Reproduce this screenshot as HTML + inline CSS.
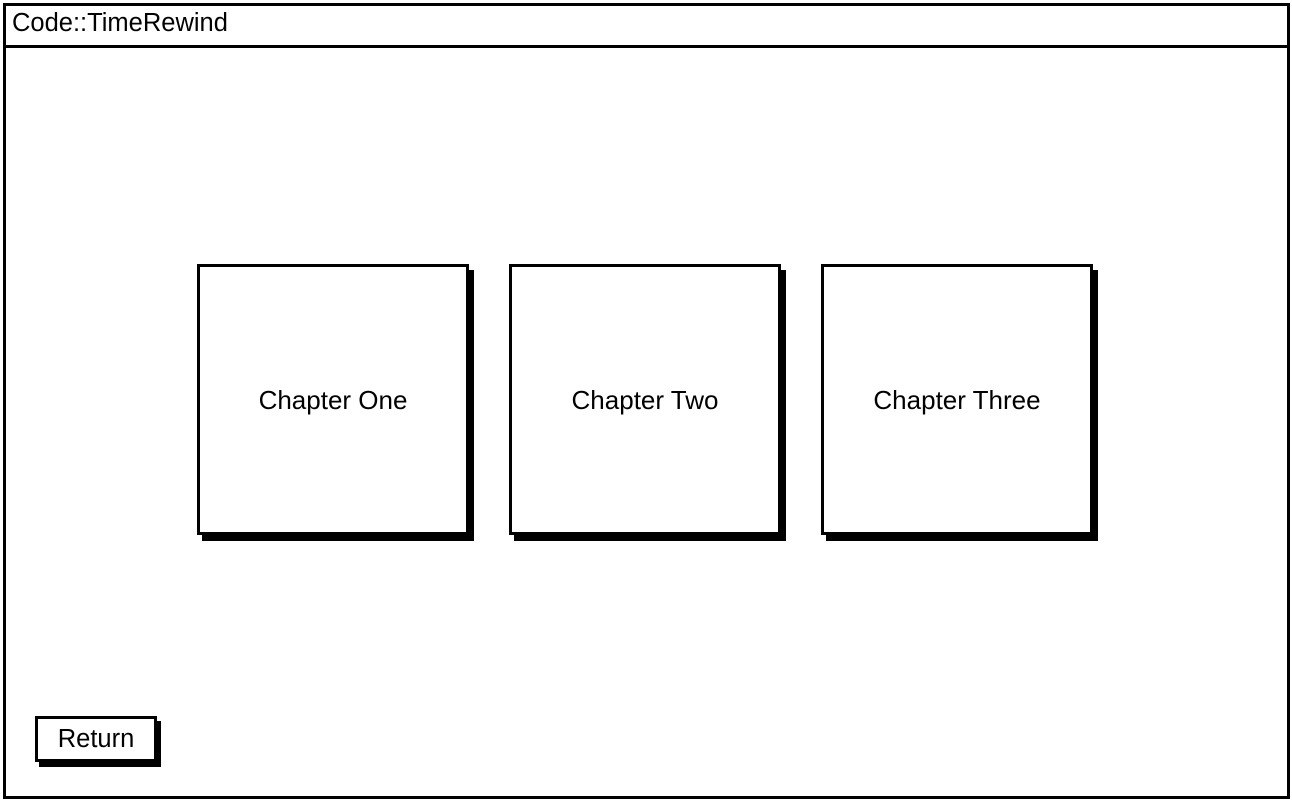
<!DOCTYPE html>
<html><head><style>
body{margin:0;width:1292px;height:800px;background:#fff;position:relative;overflow:hidden;font-family:"Liberation Sans",sans-serif;}
.a{position:absolute;box-sizing:border-box;}
.win{left:3px;top:3px;width:1287px;height:796px;border:3px solid #000;}
.bar{left:3px;top:45px;width:1287px;height:3px;background:#000;}
.title{left:12px;top:9px;font-size:25.5px;color:#000;}
.card{width:272px;height:271px;border:3px solid #000;background:#fff;box-shadow:5px 6px 0 #000;display:flex;align-items:center;justify-content:center;font-size:26px;padding-top:2px;}
.btn{left:35px;top:716px;width:122px;height:46px;border:3px solid #000;background:#fff;box-shadow:4px 5px 0 #000;display:flex;align-items:center;justify-content:center;font-size:25.5px;}
</style></head><body>
<div class="a win"></div>
<div class="a bar"></div>
<div class="a title">Code::TimeRewind</div>
<div class="a card" style="left:197px;top:264px">Chapter One</div>
<div class="a card" style="left:509px;top:264px">Chapter Two</div>
<div class="a card" style="left:821px;top:264px">Chapter Three</div>
<div class="a btn">Return</div>
</body></html>
